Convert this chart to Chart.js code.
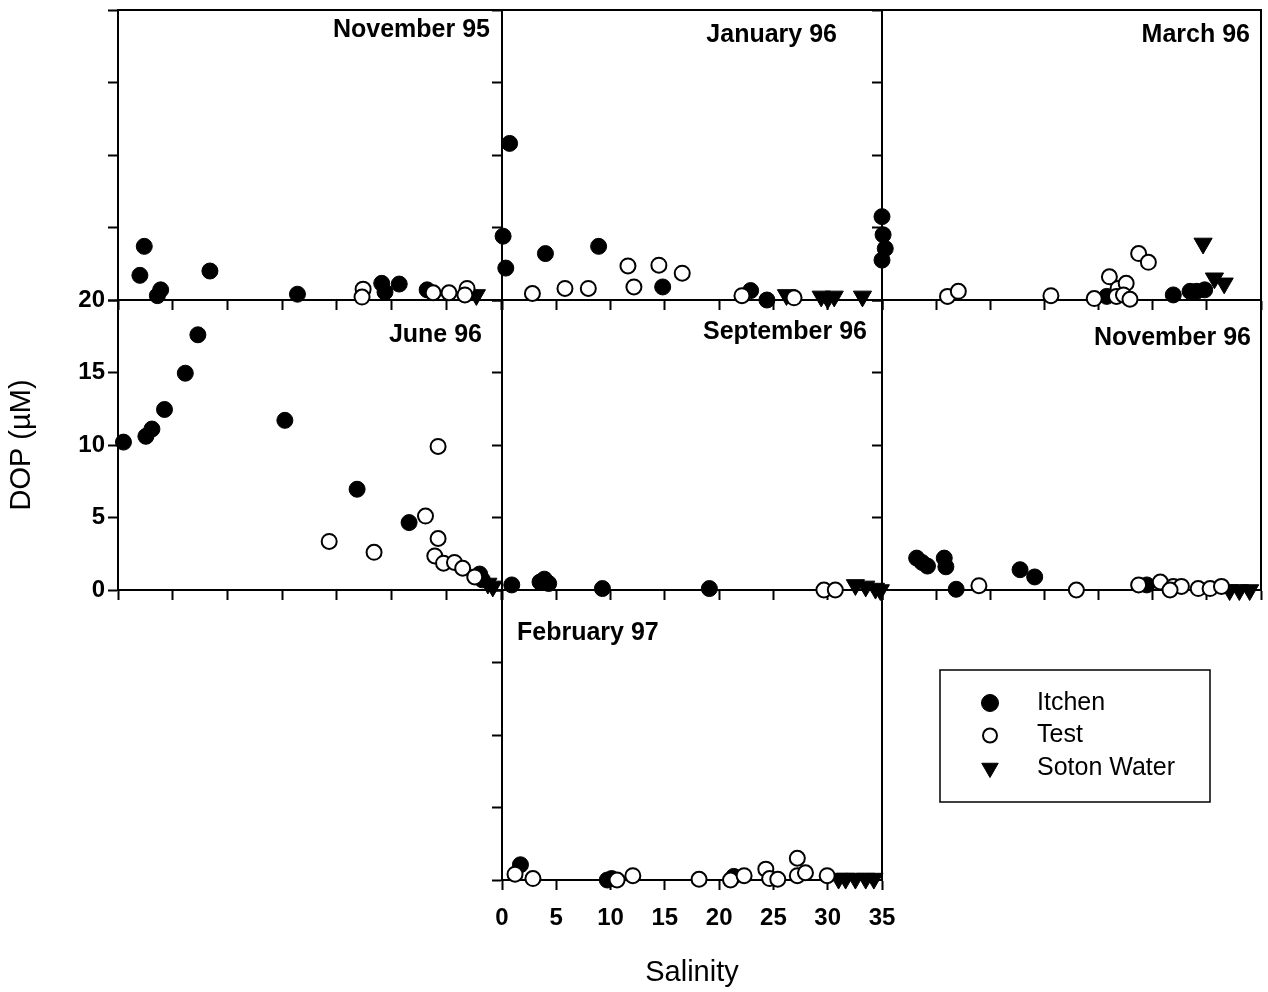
<!DOCTYPE html>
<html>
<head>
    <title>DOP against salinity</title>
    <meta charset="utf-8" />
    <script src="https://cdn.jsdelivr.net/npm/chart.js"></script>
    <style>
        body { margin: 0; background: #fff; overflow: hidden; }
        #figure { position: relative; width: 1268px; height: 992px; }
        #figure canvas { position: absolute; }
    </style>
</head>
<body>
    <div id="figure"></div>
    <script>
        // [salinity, DOP (uM)] per survey and source
        var nov95Itchen = [[2.4,3.7],[2.0,1.7],[3.6,0.3],[3.9,0.7],[8.4,2.0],[16.4,0.4],[24.1,1.15],[24.4,0.55],[25.7,1.1],[28.25,0.7]];
        var nov95Test = [[22.4,0.75],[22.3,0.2],[28.8,0.5],[30.25,0.5],[31.9,0.8],[31.7,0.35]];
        var nov95Soton = [[32.75,0.35]];

        var jan96Itchen = [[0.7,10.8],[0.1,4.4],[0.35,2.2],[4.0,3.2],[8.9,3.7],[14.8,0.9],[22.9,0.65],[24.4,0.0],[35.0,5.75],[35.1,4.5],[35.3,3.55],[35.0,2.75]];
        var jan96Test = [[2.8,0.45],[5.8,0.8],[7.95,0.8],[11.6,2.35],[12.15,0.9],[14.45,2.4],[16.6,1.85],[22.1,0.3],[26.9,0.15]];
        var jan96Soton = [[26.2,0.35],[29.4,0.25],[30.0,0.1],[30.6,0.25],[33.2,0.25]];

        var mar96Itchen = [[20.75,0.25],[26.9,0.35],[28.45,0.6],[29.05,0.6],[29.8,0.7]];
        var mar96Test = [[6.05,0.25],[7.05,0.6],[15.6,0.3],[19.6,0.1],[21.0,1.6],[21.8,0.8],[22.55,1.15],[21.65,0.25],[22.3,0.35],[22.9,0.05],[23.7,3.2],[24.6,2.6]];
        var mar96Soton = [[29.65,3.9],[30.7,1.5],[31.6,1.15]];

        var jun96Itchen = [[0.5,10.2],[2.55,10.6],[3.1,11.1],[4.25,12.45],[6.15,14.95],[7.3,17.6],[15.25,11.7],[21.85,6.95],[26.6,4.65],[33.05,1.1],[33.3,0.7]];
        var jun96Test = [[19.3,3.35],[23.4,2.6],[28.1,5.1],[29.25,9.9],[29.25,3.55],[28.95,2.35],[29.75,1.85],[30.75,1.9],[31.5,1.5],[32.6,0.9]];
        var jun96Soton = [[33.8,0.45],[34.25,0.25]];

        var sep96Itchen = [[0.9,0.35],[3.5,0.55],[3.9,0.75],[4.3,0.45],[9.25,0.1],[19.1,0.1]];
        var sep96Test = [[29.65,0.0],[30.7,0.0]];
        var sep96Soton = [[32.55,0.35],[33.5,0.25],[34.4,0.1],[34.85,0.0]];

        var nov96Itchen = [[3.2,2.2],[3.7,1.9],[4.2,1.65],[5.75,2.2],[5.9,1.6],[6.85,0.05],[12.75,1.4],[14.1,0.9],[24.45,0.35]];
        var nov96Test = [[8.95,0.3],[17.95,0.0],[23.7,0.35],[25.7,0.55],[26.9,0.25],[27.65,0.25],[26.6,0.0],[29.2,0.1],[30.3,0.1],[31.35,0.25]];
        var nov96Soton = [[32.1,0.0],[33.0,0.0],[33.95,0.0]];

        var feb97Itchen = [[1.7,1.05],[9.7,0.0],[10.1,0.1],[21.35,0.25]];
        var feb97Test = [[1.2,0.4],[2.85,0.1],[10.6,0.0],[12.05,0.3],[18.15,0.05],[21.05,0.0],[22.3,0.3],[24.3,0.75],[24.65,0.1],[25.4,0.05],[27.2,1.5],[27.2,0.3],[27.95,0.5],[29.95,0.3]];
        var feb97Soton = [[31.0,0.1],[31.65,0.1],[32.55,0.1],[33.5,0.1],[34.25,0.1]];

        var surveyNames = ['November 95', 'January 96', 'March 96', 'June 96', 'September 96', 'November 96', 'February 97'];
        var seriesNames = ['Itchen', 'Test', 'Soton Water'];
        var salinityTicks = [0, 5, 10, 15, 20, 25, 30, 35];
        var dopTicks = [0, 5, 10, 15, 20];

        var FONT = '"Liberation Sans", Arial, Helvetica, sans-serif';
        Chart.defaults.font.family = FONT;
        Chart.defaults.color = '#000';

        // grid of panels
        var colLeft = [118, 502, 882];
        var colWidth = [383, 380, 379];
        var rowTop = [10, 300, 590];
        var panelHeight = 290;
        var padLeft = 118, padTop = 30, padBottom = 112;

        var panels = [
            { name: surveyNames[0], row: 0, col: 0, data: [nov95Itchen, nov95Test, nov95Soton], title: { align: 'right', dx: 11, dy: 27 }, top: true },
            { name: surveyNames[1], row: 0, col: 1, data: [jan96Itchen, jan96Test, jan96Soton], title: { align: 'right', dx: 45, dy: 32 }, top: true },
            { name: surveyNames[2], row: 0, col: 2, data: [mar96Itchen, mar96Test, mar96Soton], title: { align: 'right', dx: 11, dy: 32 }, top: true, right: true },
            { name: surveyNames[3], row: 1, col: 0, data: [jun96Itchen, jun96Test, jun96Soton], title: { align: 'right', dx: 19, dy: 42 }, yLabels: true },
            { name: surveyNames[4], row: 1, col: 1, data: [sep96Itchen, sep96Test, sep96Soton], title: { align: 'right', dx: 15, dy: 39 } },
            { name: surveyNames[5], row: 1, col: 2, data: [nov96Itchen, nov96Test, nov96Soton], title: { align: 'right', dx: 10, dy: 45 }, right: true },
            { name: surveyNames[6], row: 2, col: 1, data: [feb97Itchen, feb97Test, feb97Soton], title: { align: 'left', dx: 15, dy: 50 }, right: true, xLabels: true, legend: true }
        ];

        // marker look for each source
        var seriesStyle = [
            { pointStyle: 'circle', pointRadius: 8, pointBackgroundColor: '#000', pointBorderColor: '#000', pointBorderWidth: 1, pointRotation: 0, order: 1 },
            { pointStyle: 'circle', pointRadius: 7.5, pointBackgroundColor: '#fff', pointBorderColor: '#000', pointBorderWidth: 2, pointRotation: 0, order: 0 },
            { pointStyle: 'triangle', pointRadius: 10.5, pointBackgroundColor: '#000', pointBorderColor: '#000', pointBorderWidth: 1, pointRotation: 180, order: 2 }
        ];

        // top/right edges of the box (left and bottom come from the axes)
        var panelFrame = {
            id: 'panelFrame',
            beforeDatasetsDraw: function (chart, args, opts) {
                var a = chart.chartArea, ctx = chart.ctx;
                ctx.save();
                ctx.strokeStyle = '#000';
                ctx.lineWidth = 2;
                ctx.beginPath();
                if (opts.top) { ctx.moveTo(a.left - 1, a.top); ctx.lineTo(a.right + 1, a.top); }
                if (opts.right) { ctx.moveTo(a.right, a.top - 1); ctx.lineTo(a.right, a.bottom + 1); }
                ctx.stroke();
                ctx.restore();
            }
        };

        var panelTitle = {
            id: 'panelTitle',
            afterDatasetsDraw: function (chart, args, opts) {
                var a = chart.chartArea, ctx = chart.ctx;
                ctx.save();
                ctx.font = 'bold 25px ' + FONT;
                ctx.fillStyle = '#000';
                ctx.textBaseline = 'alphabetic';
                ctx.textAlign = opts.align;
                var x = opts.align === 'left' ? a.left + opts.dx : a.right - opts.dx;
                ctx.fillText(opts.text, x, a.top + opts.dy);
                ctx.restore();
            }
        };

        var legendBox = {
            id: 'legendBox',
            afterDraw: function (chart, args, opts) {
                if (!opts.show) return;
                var a = chart.chartArea, ctx = chart.ctx;
                var x = a.right + 58, y = a.top + 80;
                var sizes = [8.5, 7, 9.5];
                ctx.save();
                ctx.strokeStyle = '#000';
                ctx.lineWidth = 1.5;
                ctx.strokeRect(x, y, 270, 132);
                chart.data.datasets.forEach(function (ds, i) {
                    var cy = y + 33 + i * 32.5;
                    ctx.fillStyle = ds.pointBackgroundColor;
                    ctx.strokeStyle = ds.pointBorderColor;
                    ctx.lineWidth = ds.pointBorderWidth;
                    Chart.helpers.drawPoint(ctx, {
                        pointStyle: ds.pointStyle,
                        rotation: ds.pointRotation,
                        radius: sizes[i],
                        borderWidth: ds.pointBorderWidth
                    }, x + 50, cy);
                    ctx.fillStyle = '#000';
                    ctx.font = '25px ' + FONT;
                    ctx.textAlign = 'left';
                    ctx.textBaseline = 'middle';
                    ctx.fillText(ds.label, x + 97, cy);
                });
                ctx.restore();
            }
        };

        var figure = document.getElementById('figure');

        panels.forEach(function (p) {
            var padRight = p.legend ? 360 : 40;
            var canvas = document.createElement('canvas');
            canvas.width = padLeft + colWidth[p.col] + padRight;
            canvas.height = padTop + panelHeight + padBottom;
            canvas.style.left = (colLeft[p.col] - padLeft) + 'px';
            canvas.style.top = (rowTop[p.row] - padTop) + 'px';
            figure.appendChild(canvas);

            var datasets = p.data.map(function (pairs, i) {
                return Object.assign({
                    label: seriesNames[i],
                    data: pairs.map(function (d) { return { x: d[0], y: d[1] }; }),
                    clip: false
                }, seriesStyle[i]);
            });

            var axisLine = { display: true, color: '#000', width: 2 };
            var tickMarks = { display: true, drawOnChartArea: false, drawTicks: true, tickLength: 10, tickWidth: 2, tickColor: '#000', color: '#000' };

            new Chart(canvas, {
                type: 'scatter',
                data: { datasets: datasets },
                plugins: [panelFrame, panelTitle, legendBox],
                options: {
                    responsive: false,
                    animation: false,
                    events: [],
                    layout: { autoPadding: false, padding: { left: 0, top: padTop, right: padRight, bottom: 0 } },
                    plugins: {
                        legend: { display: false },
                        tooltip: { enabled: false },
                        panelFrame: { top: !!p.top, right: !!p.right },
                        panelTitle: { text: p.name, align: p.title.align, dx: p.title.dx, dy: p.title.dy },
                        legendBox: { show: !!p.legend }
                    },
                    scales: {
                        x: {
                            type: 'linear',
                            min: 0,
                            max: 35,
                            afterBuildTicks: function (s) { s.ticks = salinityTicks.map(function (v) { return { value: v }; }); },
                            afterFit: function (s) { s.height = padBottom; },
                            border: axisLine,
                            grid: tickMarks,
                            ticks: { display: !!p.xLabels, padding: 14, maxRotation: 0, autoSkip: false, font: { size: 24, weight: 'bold' } },
                            title: { display: !!p.xLabels, text: 'Salinity', font: { size: 29 }, padding: { top: 0, bottom: 2 } }
                        },
                        y: {
                            type: 'linear',
                            min: 0,
                            max: 20,
                            afterBuildTicks: function (s) { s.ticks = dopTicks.map(function (v) { return { value: v }; }); },
                            afterFit: function (s) { s.width = padLeft; },
                            border: axisLine,
                            grid: tickMarks,
                            ticks: { display: !!p.yLabels, padding: 3, autoSkip: false, font: { size: 24, weight: 'bold' } },
                            title: { display: !!p.yLabels, text: 'DOP (\u00B5M)', font: { size: 29 }, padding: { top: 5, bottom: 0 } }
                        }
                    }
                }
            });
        });
    </script>
</body>
</html>
